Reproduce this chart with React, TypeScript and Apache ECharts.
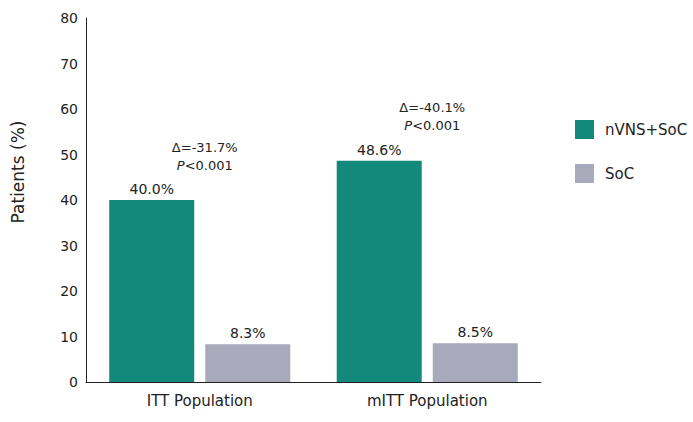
import React, { useEffect, useRef } from "react";
import * as echarts from "echarts";

const categories = ["ITT Population", "mITT Population"];
const seriesNames = ["nVNS+SoC", "SoC"];
const nvnsValues = [40.0, 48.6];
const socValues = [8.3, 8.5];
const deltaLabels = ["Δ=-31.7%", "Δ=-40.1%"];
const pLabels = ["<0.001", "<0.001"];
const yTicks = { min: 0, max: 80, interval: 10 };

const TEAL = "#12897b";
const GRAY = "#a8a9ba";
const FONT = "'DejaVu Sans', sans-serif";

export default function App() {
  const ref = useRef<HTMLDivElement>(null);
  useEffect(() => {
    if (!ref.current) return;
    const chart = echarts.init(ref.current, undefined, { renderer: "svg" });
    const valueLabel = {
      show: true,
      position: "top",
      distance: 4,
      fontSize: 14,
      color: "#222",
      fontFamily: FONT,
      formatter: (p: any) => p.value.toFixed(1) + "%",
    };
    chart.setOption({
      animation: false,
      backgroundColor: "#ffffff",
      textStyle: { fontFamily: FONT },
      grid: { left: 86, top: 18, width: 455, bottom: 40, containLabel: false },
      legend: {
        orient: "vertical",
        left: 570,
        top: 115,
        itemWidth: 19,
        itemHeight: 19,
        itemGap: 25,
        icon: "rect",
        textStyle: { fontSize: 15, color: "#222", fontFamily: FONT, padding: [0, 0, 0, 6] },
        data: seriesNames,
      },
      xAxis: {
        type: "category",
        data: categories,
        axisLine: { lineStyle: { color: "#222", width: 1 } },
        axisTick: { show: false },
        axisLabel: { fontSize: 15, color: "#222", margin: 11, fontFamily: FONT },
      },
      yAxis: {
        type: "value",
        min: yTicks.min,
        max: yTicks.max,
        interval: yTicks.interval,
        axisLine: { show: true, lineStyle: { color: "#222", width: 1 } },
        axisTick: { show: false },
        splitLine: { show: false },
        axisLabel: { fontSize: 14, color: "#222", margin: 8, fontFamily: FONT },
      },
      graphic: [
        {
          type: "text",
          x: 18,
          y: 172,
          rotation: Math.PI / 2,
          style: {
            text: "Patients (%)",
            fontSize: 17,
            fontFamily: FONT,
            fill: "#222",
            align: "center",
            verticalAlign: "middle",
          },
        },
      ],
      series: [
        {
          name: seriesNames[0],
          type: "bar",
          data: nvnsValues,
          barWidth: 85,
          barGap: "13%",
          itemStyle: { color: TEAL },
          label: valueLabel,
        },
        {
          name: seriesNames[1],
          type: "bar",
          data: socValues,
          barWidth: 85,
          itemStyle: { color: GRAY },
          label: valueLabel,
        },
        {
          type: "scatter",
          data: nvnsValues.map((v, i) => [i, v]),
          symbolSize: 0,
          silent: true,
          legendHoverLink: false,
          itemStyle: { opacity: 1 },
          label: {
            show: true,
            position: "inside",
            offset: [5, -44],
            fontSize: 13,
            color: "#222",
            opacity: 1,
            fontFamily: FONT,
            lineHeight: 18,
            align: "center",
            formatter: (p: any) =>
              "{d|" + deltaLabels[p.dataIndex] + "}\n{i|P}{p|" + pLabels[p.dataIndex] + "}",
            rich: {
              d: { fontSize: 13, fontFamily: FONT, color: "#222", lineHeight: 18 },
              i: { fontSize: 13, fontFamily: FONT, fontStyle: "italic", color: "#222", lineHeight: 18 },
              p: { fontSize: 13, fontFamily: FONT, color: "#222", lineHeight: 18 },
            },
          },
        },
      ],
    });
    return () => chart.dispose();
  }, []);
  return (
    <div
      ref={ref}
      style={{ position: "absolute", left: 0, top: 0, width: 693, height: 422 }}
    />
  );
}
